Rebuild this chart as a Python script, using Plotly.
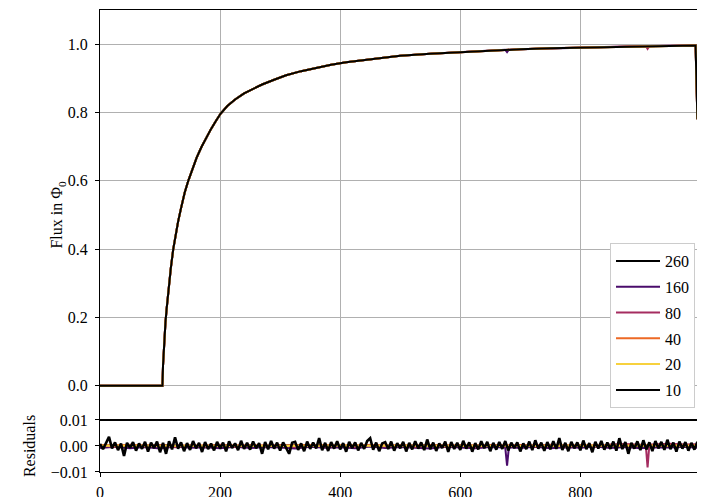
import plotly.graph_objects as go

# ---------------- data ----------------
labels = ["260", "160", "80", "40", "20", "10"]
colors = ["#000000", "#4a0c6b", "#a52c60", "#ed6925", "#f7d13d", "#000000"]

# flux curve, shared by all series
flux_t = [0, 50, 104, 105, 106, 107.5, 109, 111, 113, 115.5, 118, 122, 126, 130,
          135, 141, 147, 154, 161, 169, 177, 185, 193, 201, 212, 225, 240, 255,
          270, 290, 310, 335, 360, 385, 410, 440, 470, 500, 550, 600, 650, 700,
          750, 800, 850, 900, 950, 992, 995]
flux = [0.0, 0.0, 0.0, 0.06, 0.10, 0.15, 0.185, 0.225, 0.262, 0.305, 0.345, 0.40,
        0.445, 0.48, 0.52, 0.565, 0.60, 0.637, 0.668, 0.699, 0.727, 0.752, 0.775,
        0.797, 0.819, 0.838, 0.856, 0.870, 0.882, 0.896, 0.909, 0.921, 0.931,
        0.940, 0.947, 0.954, 0.960, 0.966, 0.972, 0.977, 0.981, 0.985, 0.988,
        0.990, 0.992, 0.994, 0.995, 0.996, 0.78]

# small outliers visible on the main curve
dip_t = {"160": [675, 678, 681], "80": [909, 912, 915]}
dip_v = {"160": [0.9835, 0.977, 0.9838], "80": [0.9944, 0.986, 0.9945]}

# residuals of series "10" (units of 1e-3), sampled every 5 time units
res_10_step = 5
res_10 = [
    0.8, -1.2, 1.1, 3.5, -0.9, 1.4, -1.6, 0.9, -3.8, 1.2,
    -0.7, 1.5, -1.8, 1.0, -1.1, 1.6, -2.2, 1.3, -0.8, 1.7,
    -2.4, 1.2, -3.0, 1.8, -1.3, 3.3, -1.0, 1.4, -2.0, 1.1,
    -1.5, 1.9, -0.9, 1.2, -2.3, 1.5, -1.2, 0.9, -1.7, 1.6,
    -1.0, 1.3, -2.1, 1.8, -0.8, 1.0, -1.6, 2.0, -1.1, 1.2,
    -1.4, 1.7, -0.9, 1.1, -3.0, 1.5, -1.3, 1.9, -1.0, 1.3,
    -1.8, 1.4, -0.7, -3.0, 1.2, 1.6, -1.5, 1.0, -2.0, 1.7,
    -1.1, 1.3, -0.9, 3.0, -1.6, 1.2, -1.9, 1.5, -1.0, 1.8,
    -1.3, 1.1, -2.2, 1.6, -0.8, 1.4, -1.7, 1.2, -1.1, 1.9,
    3.0, -1.4, 1.3, -2.0, 1.0, 1.5, -1.2, 1.7, -1.8, 1.1,
    -0.9, 1.6, -2.1, 1.2, -1.3, 1.8, -1.0, 1.4, -1.6, 2.5,
    -1.2, 1.3, -1.9, 1.0, -0.8, 1.7, -2.3, 1.5, -1.1, 1.2,
    -1.5, 2.0, -1.0, 1.4, -2.2, 1.1, -1.3, 1.8, -0.9, 1.6,
    -2.0, 1.2, -1.4, 1.5, -1.1, 1.9, -1.7, 1.3, -0.8, 1.4,
    -2.1, 1.0, -1.2, 1.7, -1.6, 2.2, -1.0, 1.3, -1.9, 1.5,
    -1.3, 1.8, -1.1, 3.0, -1.5, 1.2, -2.0, 1.6, -0.9, 1.4,
    -1.7, 2.1, -1.2, 1.1, -2.4, 1.6, -1.0, 1.9, -1.4, 1.3,
    -1.1, 1.7, -1.8, 3.0, -1.2, 1.5, -3.0, 1.2, -1.0, 1.8,
    -1.6, 2.2, -1.3, 1.4, -2.0, 1.9, -0.9, 1.6, -1.5, 2.4,
    -1.2, 1.3, -2.2, 1.7, -1.0, 1.5, -1.8, 1.2, -1.4, 1.6,
]

# residuals of the other series (units of 1e-3)
res_t_260 = [0, 50, 100, 150, 200, 250, 300, 350, 400, 450, 500, 550, 600, 650,
             700, 750, 800, 850, 900, 950, 995]
res_260 = [0.2, -0.3, 0.4, -0.2, 0.3, -0.4, 0.2, 0.3, -0.3, 0.2, -0.2, 0.3, -0.3,
           0.2, -0.2, 0.3, -0.2, 0.2, -0.3, 0.2, 0.1]

res_t_160 = [0, 25, 50, 75, 100, 125, 150, 175, 200, 225, 250, 275, 300, 325, 350,
             375, 400, 425, 450, 475, 500, 525, 550, 575, 600, 625, 650, 675, 678,
             681, 700, 725, 750, 775, 800, 825, 850, 875, 900, 925, 950, 975, 995]
res_160 = [-0.8, -0.3, -0.9, -0.4, -1.0, -0.2, -0.7, -0.5, -0.9, -0.3, -0.8, -0.4,
           -0.6, -1.0, -0.3, -0.7, -0.5, -0.9, -0.2, -0.8, -0.4, -0.7, -1.0, -0.3,
           -0.6, -0.9, -0.4, -0.6, -7.6, -0.5, -0.8, -0.3, -0.9, -0.5, -0.7, -0.2,
           -0.8, -0.4, -0.9, -0.5, -0.6, -0.3, -0.7]

res_t_80 = [0, 25, 50, 75, 100, 125, 150, 175, 200, 225, 250, 275, 300, 325, 350,
            375, 400, 425, 450, 475, 500, 525, 550, 575, 600, 625, 650, 675, 700,
            725, 750, 775, 800, 825, 850, 875, 900, 909, 912, 915, 925, 950, 975, 995]
res_80 = [0.3, -0.4, 0.5, -0.2, 0.4, -0.5, 0.2, -0.3, 0.5, -0.4, 0.3, -0.2, 0.4,
          -0.5, 0.3, -0.3, 0.2, -0.4, 0.5, -0.2, 0.3, -0.4, 0.4, -0.3, 0.2, -0.5,
          0.3, -0.2, 0.4, -0.3, 0.5, -0.4, 0.3, -0.2, 0.6, 0.8, 0.5, 0.4, -8.2,
          0.5, 0.7, 0.9, 0.6, 0.7]

res_t_40 = [0, 50, 100, 150, 200, 250, 300, 350, 400, 450, 500, 550, 600, 650, 700,
            750, 800, 850, 900, 950, 995]
res_40 = [0.3, 0.4, 0.2, 0.3, 0.4, 0.3, 0.2, 0.4, 0.3, 0.3, 0.2, 0.4, 0.3, 0.3,
          0.4, 0.2, 0.3, 0.4, 0.3, 0.3, 0.3]

res_t_20 = [0, 100, 200, 300, 400, 500, 600, 700, 800, 900, 995]
res_20 = [0.1, 0.0, 0.1, 0.0, 0.1, 0.0, 0.1, 0.0, 0.1, 0.0, 0.1]

x_ticks = [0, 200, 400, 600, 800]
y_ticks = [0.0, 0.2, 0.4, 0.6, 0.8, 1.0]
res_ticks = [-0.01, 0.0, 0.01]
x_range = [0, 996]

# ---------------- figure ----------------
FONT = "Liberation Serif, DejaVu Serif, serif"
fig = go.Figure()

res_data = {
    "260": (res_t_260, res_260),
    "160": (res_t_160, res_160),
    "80": (res_t_80, res_80),
    "40": (res_t_40, res_40),
    "20": (res_t_20, res_20),
    "10": ([i * res_10_step for i in range(len(res_10))], res_10),
}

for lab, col in zip(labels, colors):
    tx = list(flux_t)
    ty = list(flux)
    if lab in dip_t:
        pts = sorted(list(zip(tx, ty)) + list(zip(dip_t[lab], dip_v[lab])))
        tx = [p[0] for p in pts]
        ty = [p[1] for p in pts]
    fig.add_trace(go.Scatter(x=tx, y=ty, mode="lines", name=lab,
                             legendgroup=lab,
                             line=dict(color=col, width=2),
                             xaxis="x", yaxis="y"))

for lab, col in zip(labels, colors):
    rt, rv = res_data[lab]
    fig.add_trace(go.Scatter(x=rt, y=[v * 1e-3 for v in rv], mode="lines",
                             showlegend=False, legendgroup=lab,
                             line=dict(color=col, width=2.6 if lab == "10" else 2),
                             xaxis="x2", yaxis="y2"))

split = 0.1126
axis_common = dict(showline=True, linecolor="black", linewidth=1, mirror=True,
                   ticks="outside", ticklen=4, tickcolor="black",
                   tickfont=dict(family=FONT, size=16, color="black"),
                   zeroline=False, automargin=False)

# the page places the figure 8px from its top-left corner
fig.update_layout(
    width=697, height=489,
    margin=dict(l=92, r=7, t=2, b=25),
    paper_bgcolor="white", plot_bgcolor="white",
    font=dict(family=FONT, size=16, color="black"),
    xaxis=dict(domain=[0, 1], anchor="y", range=x_range, matches="x2",
               showticklabels=False, showgrid=True, gridcolor="#b0b0b0",
               gridwidth=1, tickvals=x_ticks, showline=True, linecolor="black",
               linewidth=1, mirror=True, ticks="", zeroline=False,
               automargin=False),
    yaxis=dict(domain=[split, 1], anchor="x", range=[-0.1, 1.1],
               tickvals=y_ticks, tickformat=".1f", showgrid=True,
               gridcolor="#b0b0b0", gridwidth=1, ticklabelstandoff=4,
               title=dict(text="Flux in Φ<sub>0</sub>",
                          font=dict(family=FONT, size=16), standoff=0),
               **axis_common),
    xaxis2=dict(domain=[0, 1], anchor="y2", range=x_range, tickvals=x_ticks,
                showgrid=False, ticklabelstandoff=2, **axis_common),
    yaxis2=dict(domain=[0, split], anchor="x2", range=[-0.01, 0.01],
                tickvals=res_ticks, tickformat=".2f", showgrid=False,
                ticklabelstandoff=4,
                title=dict(text="Residuals", font=dict(family=FONT, size=16),
                           standoff=11),
                **axis_common),
    legend=dict(x=0.995, y=0.1385, xanchor="right", yanchor="bottom",
                bgcolor="white", bordercolor="#cccccc", borderwidth=1,
                font=dict(family=FONT, size=16, color="black"),
                tracegroupgap=2, itemwidth=44),
    showlegend=True,
)

fig.write_html("out.html")
